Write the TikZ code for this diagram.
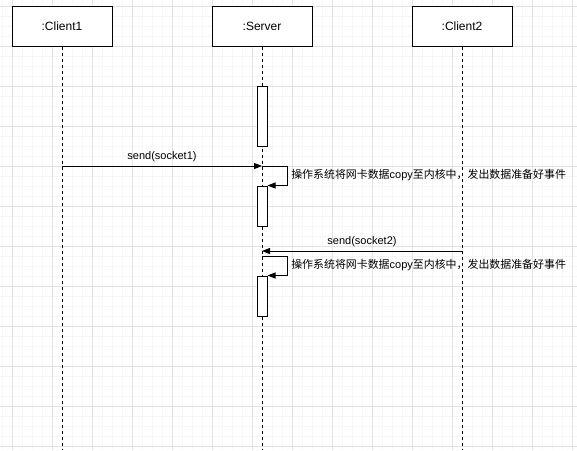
\documentclass[tikz,border=0pt]{standalone}
\usepackage{fontspec}
\setmainfont{Liberation Sans}
\newfontfamily\cjk{Noto Sans CJK SC}
\usetikzlibrary{arrows.meta}
\definecolor{minorgrid}{HTML}{F6F6F6}
\definecolor{majorgrid}{HTML}{E2E2E2}
\tikzstyle{obj} = [draw=black, line width=0.75pt, fill=white, minimum width=75pt, minimum height=30pt, inner sep=0pt, font={\fontsize{9pt}{11pt}\selectfont}]
\tikzstyle{act} = [draw=black, line width=0.75pt, fill=white, minimum width=7.5pt, minimum height=45pt, inner sep=0pt]
\tikzstyle{life} = [line width=0.75pt, dash pattern=on 2.25pt off 2.25pt]
\tikzstyle{msg} = [line width=0.75pt, -{Triangle[length=6pt,width=4.5pt]}]
\tikzstyle{lbl} = [inner sep=0pt, font={\fontsize{8.25pt}{10pt}\selectfont}]
\newcommand{\zh}[1]{{\cjk\fontsize{8.2pt}{10pt}\selectfont #1}}

\begin{document}
\begin{tikzpicture}[x=0.75pt, y=-0.75pt]
    \useasboundingbox (0,0) rectangle (577,450);
    \fill[white] (0,0) rectangle (577,450);
    % grid
    \foreach \gx in {2,12,...,572} \draw[minorgrid, line width=0.75pt] (\gx,0) -- (\gx,450);
    \foreach \gy in {6,16,...,446} \draw[minorgrid, line width=0.75pt] (0,\gy) -- (577,\gy);
    \foreach \gx in {12,52,...,572} \draw[majorgrid, line width=0.75pt] (\gx,0) -- (\gx,450);
    \foreach \gy in {6,46,...,446} \draw[majorgrid, line width=0.75pt] (0,\gy) -- (577,\gy);
    % lifelines
    \node[obj](c1) at (62,26){:Client1};
    \node[obj](srv) at (262,26){:Server};
    \node[obj](c2) at (462,26){:Client2};
    \coordinate (c1end) at (62,450);
    \coordinate (srvend) at (262,450);
    \coordinate (c2end) at (462,450);
    \draw[life](c1)--(c1end);
    \draw[life](srv)--(srvend);
    \draw[life](c2)--(c2end);
    % activations
    \node[act](a1) at (262,116){};
    \node[act,minimum height=30pt](a2) at (262,206){};
    \node[act,minimum height=30pt](a3) at (262,296){};
    % messages
    \coordinate (m1s) at (62,166);
    \coordinate (m1e) at (262,166);
    \coordinate (m2s) at (462,251);
    \coordinate (m2e) at (262,251);
    \coordinate (r1) at (287,166);
    \coordinate (r2) at (287,256);
    \coordinate (m3s) at (262,256);
    \draw[msg](m1s)--(m1e) node[lbl, midway, above=2.5pt]{send(socket1)};
    \draw[msg](m1e)--(r1)|-(a2.north east);
    \node[lbl, anchor=west](n1) at (291,175){\zh{操作系统将网卡数据}copy\zh{至内核中，发出数据准备好事件}};
    \draw[msg](m2s)--(m2e) node[lbl, midway, above=2.5pt]{send(socket2)};
    \draw[msg](m3s)--(r2)|-(a3.north east);
    \node[lbl, anchor=west](n2) at (291,265){\zh{操作系统将网卡数据}copy\zh{至内核中，发出数据准备好事件}};
\end{tikzpicture}
\end{document}
